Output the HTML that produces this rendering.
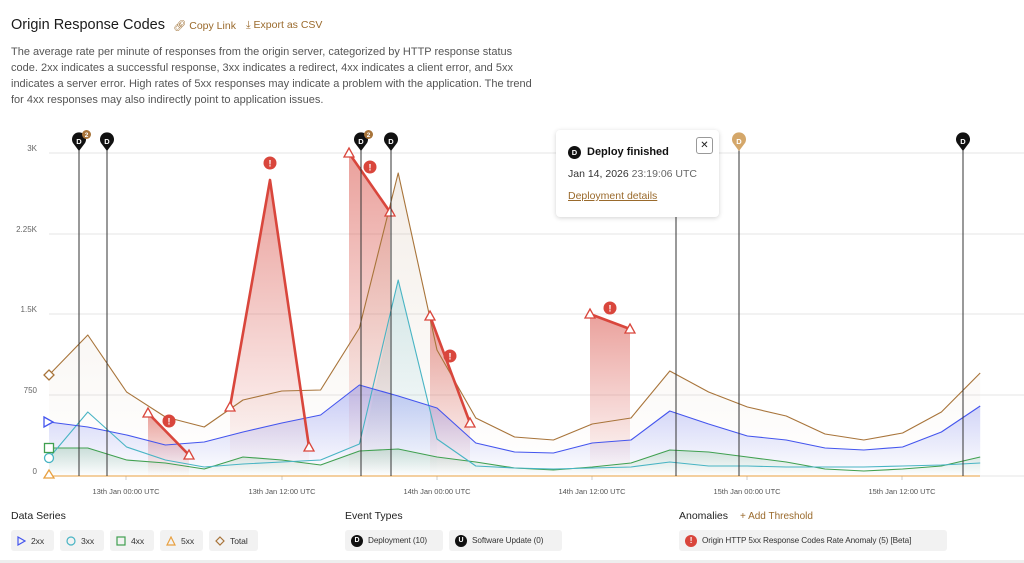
<!DOCTYPE html>
<html><head><meta charset="utf-8"><style>
*{margin:0;padding:0;box-sizing:border-box}
body{width:1024px;height:563px;background:#fff;font-family:"Liberation Sans",sans-serif;color:#222;position:relative;overflow:hidden}
.t{position:absolute;white-space:nowrap}
.chip{position:absolute;top:530px;height:21px;background:#f2f2f2;border-radius:3px;font-size:8.6px;color:#333;display:flex;align-items:center;padding:0 6px;gap:5px;white-space:nowrap;letter-spacing:-0.1px}
</style></head><body>
<div class="t" style="left:11px;top:17px;font-size:14.5px;color:#1a1a1a">Origin Response Codes</div>
<div class="t" style="left:173px;top:19px;font-size:10.5px;color:#9a6a2c">&#128279;&#xFE0E; Copy Link</div>
<div class="t" style="left:246px;top:19px;font-size:10.5px;color:#9a6a2c">&#x2913; Export as CSV</div>
<div class="t" style="left:11px;top:44px;font-size:11px;line-height:16px;color:#555;white-space:normal;width:525px">The average rate per minute of responses from the origin server, categorized by HTTP response status code. 2xx indicates a successful response, 3xx indicates a redirect, 4xx indicates a client error, and 5xx indicates a server error. High rates of 5xx responses may indicate a problem with the application. The trend for 4xx responses may also indirectly point to application issues.</div>

<svg width="1024" height="563" style="position:absolute;left:0;top:0" font-family="Liberation Sans, sans-serif">
<defs>
<linearGradient id="gr" x1="0" y1="0" x2="0" y2="1"><stop offset="0" stop-color="#d9534a" stop-opacity=".55"/><stop offset="1" stop-color="#d9534a" stop-opacity="0"/></linearGradient>
<linearGradient id="gb" x1="0" y1="0" x2="0" y2="1"><stop offset="0" stop-color="#4455ee" stop-opacity=".3"/><stop offset="1" stop-color="#4455ee" stop-opacity="0"/></linearGradient>
<linearGradient id="gt" x1="0" y1="0" x2="0" y2="1"><stop offset="0" stop-color="#a07040" stop-opacity=".12"/><stop offset="1" stop-color="#a07040" stop-opacity="0"/></linearGradient>
<linearGradient id="gc" x1="0" y1="0" x2="0" y2="1"><stop offset="0" stop-color="#40b0c0" stop-opacity=".2"/><stop offset="1" stop-color="#40b0c0" stop-opacity="0"/></linearGradient>
<linearGradient id="gg" x1="0" y1="0" x2="0" y2="1"><stop offset="0" stop-color="#40a050" stop-opacity=".2"/><stop offset="1" stop-color="#40a050" stop-opacity="0"/></linearGradient>
</defs>
<g stroke="#e6e6e6" stroke-width="1">
<line x1="49" y1="153" x2="1024" y2="153"/><line x1="49" y1="234" x2="1024" y2="234"/><line x1="49" y1="314" x2="1024" y2="314"/><line x1="49" y1="395" x2="1024" y2="395"/><line x1="49" y1="476" x2="1024" y2="476"/>
</g>
<g font-size="8" fill="#666" text-anchor="end">
<text x="37" y="151">3K</text><text x="37" y="232">2.25K</text><text x="37" y="312">1.5K</text><text x="37" y="393">750</text><text x="37" y="474">0</text>
</g>
<g stroke="#ccc"><line x1="126" y1="476" x2="126" y2="480"/><line x1="282" y1="476" x2="282" y2="480"/><line x1="437" y1="476" x2="437" y2="480"/><line x1="592" y1="476" x2="592" y2="480"/><line x1="747" y1="476" x2="747" y2="480"/><line x1="902" y1="476" x2="902" y2="480"/></g>
<g font-size="7.5" fill="#555" text-anchor="middle">
<text x="126" y="494">13th Jan 00:00 UTC</text><text x="282" y="494">13th Jan 12:00 UTC</text><text x="437" y="494">14th Jan 00:00 UTC</text><text x="592" y="494">14th Jan 12:00 UTC</text><text x="747" y="494">15th Jan 00:00 UTC</text><text x="902" y="494">15th Jan 12:00 UTC</text>
</g>
<g fill="url(#gr)">
<polygon points="148,413 189,455 189,476 148,476"/>
<polygon points="230,407 270,180 309,447 309,476 230,476"/>
<polygon points="349,153 390,212 390,476 349,476"/>
<polygon points="430,316 470,423 470,476 430,476"/>
<polygon points="590,314 630,329 630,476 590,476"/>
</g>
<polygon fill="url(#gt)" points="49,375 87.8,335 126.6,392 165.4,417 204.2,427 243,400 281.8,391 320.6,390 359.4,328 398.2,173 437,350 475.8,418 514.6,437 553.4,440 592.2,424 631,418 669.8,371 708.6,392 747.4,407 786.2,416 825,434 863.8,440 902.6,433 941.4,412 980.2,373 980.2,476 49,476"/>
<polygon fill="url(#gb)" points="49,422 87.8,427 126.6,435 165.4,445 204.2,442 243,432 281.8,423 320.6,415 359.4,385 398.2,396 437,408 475.8,443 514.6,452 553.4,453 592.2,443 631,440 669.8,411 708.6,424 747.4,436 786.2,440 825,448 863.8,450 902.6,447 941.4,432 980.2,406 980.2,476 49,476"/>
<polygon fill="url(#gc)" points="359.4,462 398.2,280 437,439 437,476 359.4,476"/>
<polygon fill="url(#gg)" points="49,448 87.8,448 126.6,460 165.4,463 204.2,469 243,457 281.8,460 320.6,465 359.4,451 398.2,449 437,457 475.8,462 514.6,468 553.4,470 592.2,467 631,463 669.8,450 708.6,452 747.4,457 786.2,462 825,469 863.8,471 902.6,469 941.4,466 980.2,457 980.2,476 49,476"/>
<g fill="none" stroke-width="1.1" stroke-linejoin="round">
<polyline stroke="#e8a040" points="49,476 980,476"/>
<polyline stroke="#40a050" points="49,448 87.8,448 126.6,460 165.4,463 204.2,469 243,457 281.8,460 320.6,465 359.4,451 398.2,449 437,457 475.8,462 514.6,468 553.4,470 592.2,467 631,463 669.8,450 708.6,452 747.4,457 786.2,462 825,469 863.8,471 902.6,469 941.4,466 980.2,457"/>
<polyline stroke="#48b4c4" points="49,458 87.8,412 126.6,447 165.4,460 204.2,467 243,464 281.8,462 320.6,460 359.4,444 398.2,280 437,439 475.8,466 514.6,468 553.4,469 592.2,468 631,467 669.8,462 708.6,466 747.4,466 786.2,467 825,467 863.8,467 902.6,466 941.4,465 980.2,463"/>
<polyline stroke="#4455ee" points="49,422 87.8,427 126.6,435 165.4,445 204.2,442 243,432 281.8,423 320.6,415 359.4,385 398.2,396 437,408 475.8,443 514.6,452 553.4,453 592.2,443 631,440 669.8,411 708.6,424 747.4,436 786.2,440 825,448 863.8,450 902.6,447 941.4,432 980.2,406"/>
<polyline stroke="#a8743a" points="49,375 87.8,335 126.6,392 165.4,417 204.2,427 243,400 281.8,391 320.6,390 359.4,328 398.2,173 437,350 475.8,418 514.6,437 553.4,440 592.2,424 631,418 669.8,371 708.6,392 747.4,407 786.2,416 825,434 863.8,440 902.6,433 941.4,412 980.2,373"/>
</g>
<g fill="none" stroke="#d9463c" stroke-width="2.6" stroke-linejoin="round">
<polyline points="148,413 189,455"/><polyline points="230,407 270,180 309,447"/><polyline points="349,153 390,212"/><polyline points="430,316 470,423"/><polyline points="590,314 630,329"/>
</g>
<g fill="#fff" stroke="#d9463c" stroke-width="1.3">
<path d="M148,408 l5,9 h-10z"/><path d="M189,450 l5,9 h-10z"/><path d="M230,402 l5,9 h-10z"/><path d="M309,442 l5,9 h-10z"/><path d="M349,148 l5,9 h-10z"/><path d="M390,207 l5,9 h-10z"/><path d="M430,311 l5,9 h-10z"/><path d="M470,418 l5,9 h-10z"/><path d="M590,309 l5,9 h-10z"/><path d="M630,324 l5,9 h-10z"/>
</g>
<g font-size="9" font-weight="bold" fill="#fff" text-anchor="middle">
<circle cx="169" cy="421" r="6.5" fill="#d9463c"/><text x="169" y="424.5">!</text>
<circle cx="270" cy="163" r="6.5" fill="#d9463c"/><text x="270" y="166.5">!</text>
<circle cx="370" cy="167" r="6.5" fill="#d9463c"/><text x="370" y="170.5">!</text>
<circle cx="450" cy="356" r="6.5" fill="#d9463c"/><text x="450" y="359.5">!</text>
<circle cx="610" cy="308" r="6.5" fill="#d9463c"/><text x="610" y="311.5">!</text>
</g>
<g fill="#fff" stroke-width="1.3">
<path d="M44,417 l9,5 l-9,5z" stroke="#4455ee"/>
<circle cx="49" cy="458" r="4.5" stroke="#48b4c4"/>
<rect x="44.5" y="443.5" width="9" height="9" stroke="#40a050"/>
<path d="M49,470 l5,8 h-10z" stroke="#e8a040"/>
<path d="M49,370 l5,5 l-5,5 l-5,-5z" stroke="#a8743a"/>
</g>
<g stroke="#333" stroke-width="1">
<line x1="79" y1="148" x2="79" y2="476"/><line x1="107" y1="148" x2="107" y2="476"/><line x1="361" y1="148" x2="361" y2="476"/><line x1="391" y1="148" x2="391" y2="476"/><line x1="676" y1="217" x2="676" y2="476"/><line x1="739" y1="148" x2="739" y2="476"/><line x1="963" y1="148" x2="963" y2="476"/>
</g>
<g font-size="7.5" font-weight="bold" text-anchor="middle">
<g fill="#111"><path d="M79,151 l-6,-8 a7,7 0 1,1 12,0z"/><path d="M107,151 l-6,-8 a7,7 0 1,1 12,0z"/><path d="M361,151 l-6,-8 a7,7 0 1,1 12,0z"/><path d="M391,151 l-6,-8 a7,7 0 1,1 12,0z"/><path d="M963,151 l-6,-8 a7,7 0 1,1 12,0z"/></g>
<path d="M739,151 l-6,-8 a7,7 0 1,1 12,0z" fill="#d4a76a"/>
<g fill="#fff"><text x="79" y="144">D</text><text x="107" y="144">D</text><text x="361" y="144">D</text><text x="391" y="144">D</text><text x="963" y="144">D</text><text x="739" y="144">D</text></g>
<circle cx="86.5" cy="134.5" r="4.5" fill="#a8743a"/><text x="86.5" y="137" font-size="6.5" fill="#fff">2</text>
<circle cx="368.5" cy="134.5" r="4.5" fill="#a8743a"/><text x="368.5" y="137" font-size="6.5" fill="#fff">2</text>
</g>
</svg>

<div style="position:absolute;left:556px;top:130px;width:163px;height:87px;background:#fff;border-radius:4px;box-shadow:0 1px 5px rgba(0,0,0,.18)">
  <div style="position:absolute;left:12px;top:16px;width:13px;height:13px;border-radius:50%;background:#111;color:#fff;font-size:7.5px;font-weight:bold;text-align:center;line-height:13px">D</div>
  <div class="t" style="left:31px;top:16px;font-size:11px;font-weight:bold;color:#111">Deploy finished</div>
  <div class="t" style="left:12px;top:38px;font-size:10.5px;color:#333">Jan 14, 2026 <span style="color:#666">23:19:06 UTC</span></div>
  <div class="t" style="left:12px;top:60px;font-size:10.5px;color:#9a6a2c;text-decoration:underline">Deployment details</div>
  <div style="position:absolute;left:140px;top:7px;width:17px;height:17px;border:1px solid #999;border-radius:3px;font-size:10px;text-align:center;line-height:15px;color:#222">✕</div>
</div>

<div class="t" style="left:11px;top:510px;font-size:10.5px;color:#222">Data Series</div>
<div class="t" style="left:345px;top:510px;font-size:10.5px;color:#222">Event Types</div>
<div class="t" style="left:679px;top:510px;font-size:10.5px;color:#222">Anomalies</div>
<div class="t" style="left:740px;top:511px;font-size:10px;color:#9a6a2c">+ Add Threshold</div>

<div class="chip" style="left:11px;width:43px"><svg width="9" height="10"><path d="M1,1 l7,4 l-7,4z" fill="none" stroke="#4455ee" stroke-width="1.2"/></svg>2xx</div>
<div class="chip" style="left:60px;width:44px"><svg width="10" height="10"><circle cx="5" cy="5" r="4" fill="none" stroke="#48b4c4" stroke-width="1.2"/></svg>3xx</div>
<div class="chip" style="left:110px;width:44px"><svg width="10" height="10"><rect x="1" y="1" width="8" height="8" fill="none" stroke="#40a050" stroke-width="1.2"/></svg>4xx</div>
<div class="chip" style="left:160px;width:43px"><svg width="10" height="10"><path d="M5,1 l4,8 h-8z" fill="none" stroke="#e8a040" stroke-width="1.2"/></svg>5xx</div>
<div class="chip" style="left:209px;width:49px"><svg width="10" height="10"><path d="M5,1 l4,4 l-4,4 l-4,-4z" fill="none" stroke="#a8743a" stroke-width="1.2"/></svg>Total</div>
<div class="chip" style="left:345px;width:98px;font-size:8.2px"><span style="flex:none;width:12px;height:12px;border-radius:50%;background:#111;color:#fff;font-size:7px;font-weight:bold;text-align:center;line-height:12px">D</span>Deployment (10)</div>
<div class="chip" style="left:449px;width:113px;font-size:8.2px"><span style="flex:none;width:12px;height:12px;border-radius:50%;background:#111;color:#fff;font-size:7px;font-weight:bold;text-align:center;line-height:12px">U</span>Software Update (0)</div>
<div class="chip" style="left:679px;width:268px;font-size:8.2px"><span style="flex:none;width:12px;height:12px;border-radius:50%;background:#d9463c;color:#fff;font-size:8px;font-weight:bold;text-align:center;line-height:12px">!</span>Origin HTTP 5xx Response Codes Rate Anomaly (5) [Beta]</div>
<div style="position:absolute;left:0;top:560px;width:1024px;height:3px;background:#eee"></div>
</body></html>
